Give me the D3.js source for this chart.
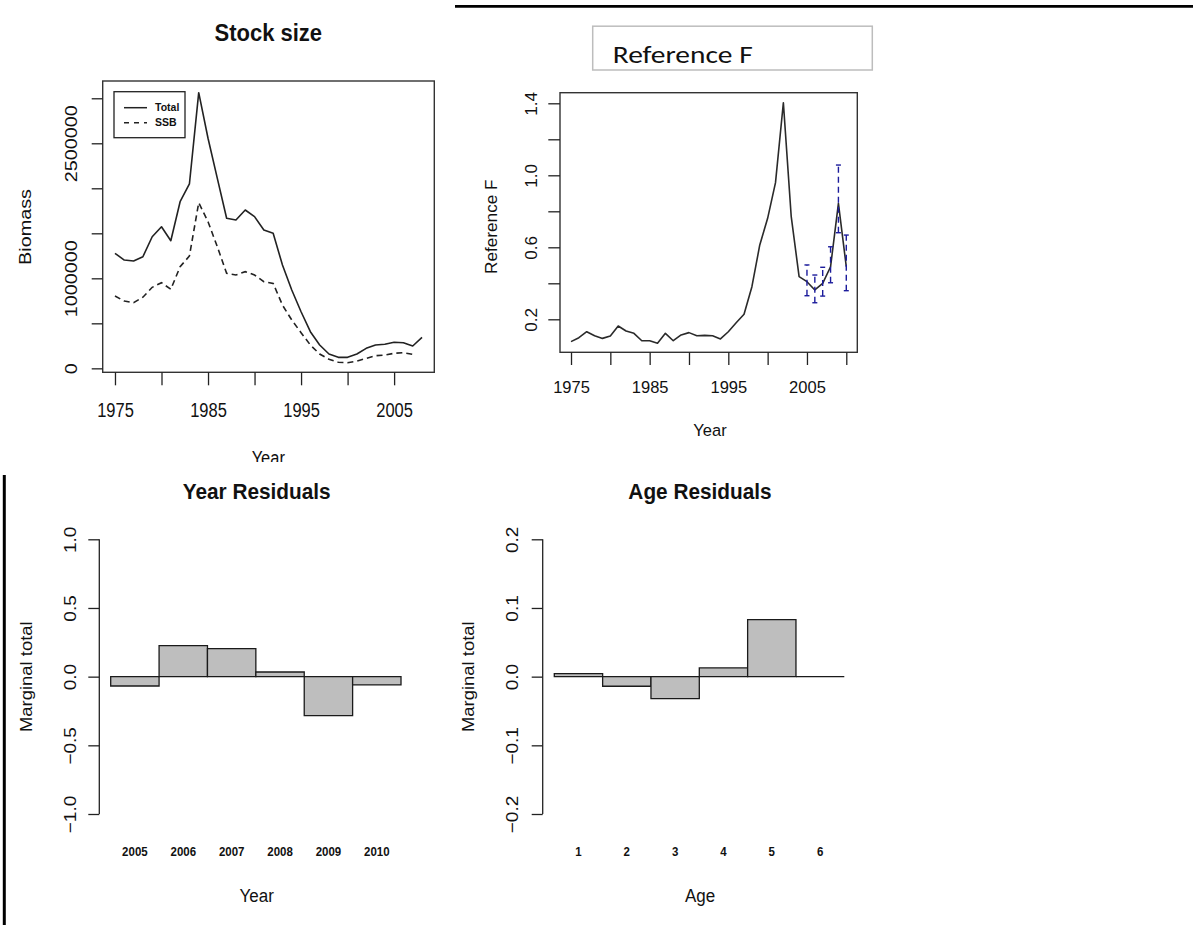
<!DOCTYPE html>
<html>
<head>
<meta charset="utf-8">
<script src="https://cdn.jsdelivr.net/npm/d3@7"></script>
<style>
  html, body { margin: 0; padding: 0; background: #fff; }
  svg { display: block; }
  text { font-family: "Liberation Sans", Arial, Helvetica, sans-serif; fill: #111; }
</style>
</head>
<body>
<svg id="chart" width="1193" height="925"></svg>
<script>
// ---- Stock size (tonnes) ----
const stockYears = [1975,1976,1977,1978,1979,1980,1981,1982,1983,1984,1985,1986,1987,1988,1989,1990,1991,
  1992,1993,1994,1995,1996,1997,1998,1999,2000,2001,2002,2003,2004,2005,2006,2007,2008];
const totalBiomass = [1278000,1203000,1192000,1240000,1462000,1573000,1418000,1851000,2048000,3062000,
  2556000,2111000,1667000,1648000,1759000,1685000,1537000,1500000,1148000,870000,629000,407000,259000,
  159000,122000,122000,159000,222000,259000,267000,289000,285000,248000,344000];
const ssbYears = [1975,1976,1977,1978,1979,1980,1981,1982,1983,1984,1985,1986,1987,1988,1989,1990,1991,
  1992,1993,1994,1995,1996,1997,1998,1999,2000,2001,2002,2003,2004,2005,2006,2007];
const ssbBiomass = [803000,748000,729000,790000,900000,951000,878000,1129000,1248000,1840000,1629000,
  1351000,1056000,1037000,1074000,1037000,962000,944000,703000,537000,396000,259000,159000,100000,67000,
  63000,81000,111000,140000,148000,167000,174000,155000];
const stockXTicks = [1975,1980,1985,1990,1995,2000,2005];
const stockXLabels = [1975,1985,1995,2005];
const stockYTicks = [0,500000,1000000,1500000,2000000,2500000,3000000];
const stockYLabels = [0,1000000,2500000];

// ---- Reference F ----
const fYears = [1975,1976,1977,1978,1979,1980,1981,1982,1983,1984,1985,1986,1987,1988,1989,1990,1991,1992,
  1993,1994,1995,1996,1997,1998,1999,2000,2001,2002,2003,2004,2005,2006,2007,2008,2009,2010];
const refF = [0.076,0.098,0.131,0.109,0.094,0.107,0.163,0.135,0.122,0.081,0.081,0.067,0.122,0.081,0.113,
  0.126,0.109,0.111,0.109,0.091,0.131,0.181,0.228,0.381,0.613,0.761,0.959,1.403,0.770,0.437,0.409,0.363,
  0.400,0.492,0.844,0.492];
const ciYears = [2005,2006,2007,2008,2009,2010];
const ciUpper = [0.502,0.446,0.489,0.603,1.057,0.668];
const ciLower = [0.331,0.292,0.329,0.403,0.681,0.359];
const fXTicks = [1975,1980,1985,1990,1995,2000,2005,2010];
const fXLabels = [1975,1985,1995,2005];
const fYTicks = [0.2,0.4,0.6,0.8,1.0,1.2,1.4];
const fYLabels = [0.2,0.6,1.0,1.4];

// ---- Residuals ----
const resYears = ["2005","2006","2007","2008","2009","2010"];
const yearResiduals = [-0.068,0.226,0.204,0.034,-0.284,-0.060];
const ages = ["1","2","3","4","5","6"];
const ageResiduals = [0.0044,-0.014,-0.032,0.0127,0.083,0];
const yearResTicks = [-1.0,-0.5,0.0,0.5,1.0];
const ageResTicks = [-0.2,-0.1,0.0,0.1,0.2];

const svg = d3.select("#chart");
const INK = "#222";

// text helper: anchor point (x,y), optional vertical stretch and rotation
function label(g, x, y, str, o = {}) {
  const sy = o.sy || 1, rot = o.rot || 0;
  g.append("text")
    .attr("transform", `translate(${x},${y}) scale(1,${sy}) rotate(${rot})`)
    .attr("text-anchor", o.anchor || "middle")
    .attr("dy", o.dy != null ? o.dy : "0.35em")
    .style("font-size", (o.size || 16) + "px")
    .style("font-weight", o.weight || "normal")
    .text(str);
}

// R-style axis: ticks from the d3 axis, labels restyled/rotated
function styleAxis(ag, { labels, fmt, offset, size, sy, vertical }) {
  ag.select(".domain").remove();
  ag.selectAll(".tick line").attr("stroke", INK).attr("stroke-width", 1.3);
  ag.selectAll(".tick text").each(function(d) {
    const t = d3.select(this);
    if (!labels.includes(d)) { t.remove(); return; }
    t.attr("x", null).attr("y", null).attr("dy", "0.35em")
      .attr("text-anchor", "middle")
      .attr("fill", "#111")
      .style("font-size", size + "px")
      .style("font-family", null)
      .text(fmt(d));
    if (vertical) t.attr("transform", `translate(${-offset},0) scale(1,${sy}) rotate(-90)`);
    else t.attr("transform", `translate(0,${offset}) scale(1,${sy})`);
  });
  ag.attr("font-family", null).attr("font-size", null);
}

// ================= Stock size =================
(function() {
  const clip = svg.append("clipPath").attr("id", "clipTL");
  clip.append("rect").attr("x", 0).attr("y", 0).attr("width", 450).attr("height", 462);
  const g = svg.append("g").attr("clip-path", "url(#clipTL)");
  const L = 102.7, R = 434.3, T = 81, B = 372.3;
  const x = d3.scaleLinear().domain([1973.68, 2009.32]).range([L, R]);
  const y = d3.scaleLinear().domain([-44000, 3192000]).range([B, T]);
  const SY = 1.2;

  const line = d3.line().x(d => x(d[0])).y(d => y(d[1]));
  g.append("path").datum(stockYears.map((yr, i) => [yr, totalBiomass[i]]))
    .attr("d", line).attr("fill", "none").attr("stroke", INK).attr("stroke-width", 1.6)
    .attr("stroke-linejoin", "round");
  g.append("path").datum(ssbYears.map((yr, i) => [yr, ssbBiomass[i]]))
    .attr("d", line).attr("fill", "none").attr("stroke", INK).attr("stroke-width", 1.6)
    .attr("stroke-dasharray", "6,4");

  g.append("rect").attr("x", L).attr("y", T).attr("width", R - L).attr("height", B - T)
    .attr("fill", "none").attr("stroke", "#333").attr("stroke-width", 1.4);

  const ax = g.append("g").attr("transform", `translate(0,${B})`)
    .call(d3.axisBottom(x).tickValues(stockXTicks).tickSize(13));
  styleAxis(ax, { labels: stockXLabels, fmt: d => d, offset: 37.7, size: 16.5, sy: SY });
  const ay = g.append("g").attr("transform", `translate(${L},0)`)
    .call(d3.axisLeft(y).tickValues(stockYTicks).tickSize(11));
  styleAxis(ay, { labels: stockYLabels, fmt: d => String(d), offset: 31, size: 16.5, sy: SY, vertical: true });

  // legend
  g.append("rect").attr("x", 114).attr("y", 91.7).attr("width", 71).attr("height", 46)
    .attr("fill", "#fff").attr("stroke", INK).attr("stroke-width", 1.3);
  const legend = [["Total", null, 107.7], ["SSB", "5,5", 122.7]];
  legend.forEach(([name, dash, ly]) => {
    g.append("line").attr("x1", 124).attr("x2", 147).attr("y1", ly).attr("y2", ly)
      .attr("stroke", INK).attr("stroke-width", 1.5).attr("stroke-dasharray", dash);
    label(g, 155, ly, name, { anchor: "start", size: 10.5, weight: "bold" });
  });

  label(g, 268.3, 32.5, "Stock size", { size: 22, weight: "bold", sy: 1.05 });
  label(g, 25, 227, "Biomass", { size: 16.5, sy: SY, rot: -90 });
  label(g, 268.3, 458, "Year", { size: 16.5, sy: SY });
})();

// ================= Reference F =================
(function() {
  const g = svg.append("g");
  // page rule and caption box
  g.append("line").attr("x1", 455).attr("x2", 1193).attr("y1", 6.3).attr("y2", 6.3)
    .attr("stroke", "#000").attr("stroke-width", 2.7);
  g.append("rect").attr("x", 592.7).attr("y", 26.2).attr("width", 279.6).attr("height", 43.8)
    .attr("fill", "#fff").attr("stroke", "#bdbdbd").attr("stroke-width", 1.5);
  g.append("text").attr("x", 612.7).attr("y", 63)
    .attr("textLength", 140).attr("lengthAdjust", "spacingAndGlyphs")
    .style("font-family", "Carlito, 'Open Sans', 'Noto Sans', sans-serif")
    .style("font-size", "23.5px").text("Reference F");

  const L = 560, R = 857.3, T = 92.7, B = 352.3;
  const x = d3.scaleLinear().domain([1973.6, 2011.4]).range([L, R]);
  const y = d3.scaleLinear().domain([0.0167, 1.4589]).range([B, T]);
  const SY = 1.04;

  const line = d3.line().x(d => x(d[0])).y(d => y(d[1]));
  g.append("path").datum(fYears.map((yr, i) => [yr, refF[i]]))
    .attr("d", line).attr("fill", "none").attr("stroke", "#2a2a2a").attr("stroke-width", 1.6)
    .attr("stroke-linejoin", "round");

  // confidence bars
  const BLUE = "#1c1c9c";
  const ci = g.append("g");
  ciYears.forEach((yr, i) => {
    const cx = x(yr);
    ci.append("line").attr("x1", cx).attr("x2", cx).attr("y1", y(ciLower[i])).attr("y2", y(ciUpper[i]))
      .attr("stroke", BLUE).attr("stroke-width", 1.4).attr("stroke-dasharray", "6,4");
    [ciLower[i], ciUpper[i]].forEach(v => {
      ci.append("line").attr("x1", cx - 2.5).attr("x2", cx + 2.5).attr("y1", y(v)).attr("y2", y(v))
        .attr("stroke", BLUE).attr("stroke-width", 1.4);
    });
  });

  g.append("rect").attr("x", L).attr("y", T).attr("width", R - L).attr("height", B - T)
    .attr("fill", "none").attr("stroke", "#333").attr("stroke-width", 1.4);

  const ax = g.append("g").attr("transform", `translate(0,${B})`)
    .call(d3.axisBottom(x).tickValues(fXTicks).tickSize(12.7));
  styleAxis(ax, { labels: fXLabels, fmt: d => d, offset: 34.4, size: 16.5, sy: SY });
  const ay = g.append("g").attr("transform", `translate(${L},0)`)
    .call(d3.axisLeft(y).tickValues(fYTicks).tickSize(11.7));
  styleAxis(ay, { labels: fYLabels, fmt: d3.format(".1f"), offset: 28.3, size: 16.5, sy: SY, vertical: true });

  label(g, 491.7, 226.7, "Reference F", { size: 16.5, sy: SY, rot: -90 });
  label(g, 710, 430, "Year", { size: 16.5, sy: SY });
})();

// ================= Residual bar panels =================
function residualPanel(cfg) {
  const g = svg.append("g");
  const SY = 1.12;
  const x = d3.scaleBand().domain(cfg.cats).range([cfg.x0, cfg.x1]).padding(0);
  const y = d3.scaleLinear().domain(cfg.domain).range([814, 539.3]);

  g.selectAll("path.bar").data(cfg.values).join("path")
    .attr("class", "bar")
    .attr("d", (v, i) => {
      const a = x(cfg.cats[i]), b = a + x.bandwidth();
      const y0 = y(0), y1 = y(v);
      return `M${a},${y0}L${a},${y1}L${b},${y1}L${b},${y0}Z`;
    })
    .attr("fill", "#bebebe").attr("stroke", "#1a1a1a").attr("stroke-width", 1.3);

  const ay = g.append("g").attr("transform", `translate(${cfg.axisX},0)`)
    .call(d3.axisLeft(y).tickValues(cfg.ticks).tickSize(11));
  styleAxis(ay, { labels: cfg.ticks, fmt: v => d3.format(".1f")(v).replace("-", "\u2212"),
    offset: cfg.labelOffset, size: 17, sy: SY, vertical: true });
  g.append("line").attr("x1", cfg.axisX).attr("x2", cfg.axisX)
    .attr("y1", y(cfg.domain[1])).attr("y2", y(cfg.domain[0]))
    .attr("stroke", INK).attr("stroke-width", 1.3);

  cfg.cats.forEach(c => label(g, x(c) + x.bandwidth() / 2, 851.7, c, { size: 11.5, weight: "bold", sy: SY }));

  label(g, cfg.titleX, 491.7, cfg.title, { size: 20.8, weight: "bold", sy: 1.05 });
  label(g, cfg.titleX, 895, cfg.xTitle, { size: 17, sy: SY });
  label(g, cfg.yTitleX, 676.7, "Marginal total", { size: 16.5, sy: SY, rot: -90 });
}

residualPanel({ cats: resYears, values: yearResiduals, x0: 110.7, x1: 401, domain: [-1, 1],
  ticks: yearResTicks, axisX: 99.3, labelOffset: 29.3, title: "Year Residuals", titleX: 256.7,
  xTitle: "Year", yTitleX: 26.7 });
residualPanel({ cats: ages, values: ageResiduals, x0: 554.3, x1: 844.3, domain: [-0.2, 0.2],
  ticks: ageResTicks, axisX: 542.7, labelOffset: 31, title: "Age Residuals", titleX: 700,
  xTitle: "Age", yTitleX: 468.3 });

// page margin rule on the left
svg.append("line").attr("x1", 4.3).attr("x2", 4.3).attr("y1", 475).attr("y2", 925)
  .attr("stroke", "#000").attr("stroke-width", 3);
</script>
</body>
</html>
